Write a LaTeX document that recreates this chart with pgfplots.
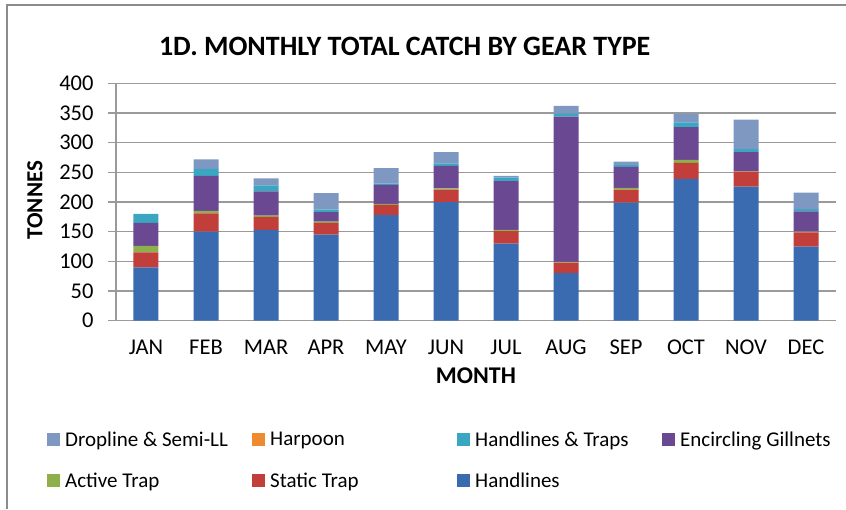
\documentclass[border=0pt]{standalone}
\usepackage{fontspec}
\setmainfont{Carlito}
\usepackage{pgfplots}
\usepackage{pgfplotstable}
\pgfplotsset{compat=1.18}

\definecolor{axisgray}{HTML}{9A9A9A}
\definecolor{frameg}{HTML}{8C8C8C}
\definecolor{cH}{HTML}{3A6BB0}
\definecolor{cST}{HTML}{C23E3B}
\definecolor{cAT}{HTML}{8DB04A}
\definecolor{cEG}{HTML}{6A4992}
\definecolor{cHT}{HTML}{3AA6C2}
\definecolor{cHP}{HTML}{F08A2E}
\definecolor{cD}{HTML}{7E98C2}

\pgfplotstableread{
x H ST AT EG HT HP D
0 90 25 11 39 15 0 0
1 150 31 4 59 12 0 16
2 153 22 2 41 10 0 12
3 145 20 2 16 4 0 28
4 178 17 2 32 2 0 26
5 200 21 2 38 4 0 19
6 130 21 2 82 6 0 3
7 80 18 1 245 5 0 13
8 199 22 3 35 3 0 6
9 239 27 5 55 8 0 15
10 226 25 1 32 5 0 50
11 125 24 1 34 4 0 28
}\datatable

\begin{document}
\begin{tikzpicture}[x=1pt,y=1pt]
\useasboundingbox (0,0) rectangle (846,509);
\draw[frameg, line width=1.3pt] (7,0) -- (7,504) -- (846,504);
\begin{axis}[
  at={(116pt,188.3pt)}, anchor=south west,
  scale only axis, width=720pt, height=237.4pt,
  ybar stacked, bar width=25pt,
  xmin=-0.5, xmax=11.5, ymin=0, ymax=400,
  xtick={0,...,11},
  xticklabels={JAN,FEB,MAR,APR,MAY,JUN,JUL,AUG,SEP,OCT,NOV,DEC},
  major x tick style={draw=none},
  extra x ticks={-0.5,0.5,1.5,2.5,3.5,4.5,5.5,6.5,7.5,8.5,9.5,10.5,11.5},
  extra x tick labels={},
  extra x tick style={grid=none, major tick length=8pt, tick style={draw=axisgray, line width=1.2pt}},
  ytick={0,50,...,400},
  ymajorgrids, grid style={axisgray, line width=1.2pt},
  axis x line*=bottom, axis y line*=left,
  axis line style={axisgray, line width=1.2pt},
  tick align=outside, major tick length=8pt,
  tick style={axisgray, line width=1.2pt},
  /pgf/number format/assume math mode=true,
  tick label style={font=\fontsize{22.5}{26}\selectfont, black},
  xticklabel style={yshift=-8pt},
  yticklabel style={xshift=-11pt},
  xlabel={\textbf{MONTH}},
  xlabel style={at={(axis description cs:0.5,-0.233)}, anchor=center, font=\fontsize{24}{28}\selectfont},
  ylabel={\textbf{TONNES}},
  ylabel style={at={(axis description cs:-0.1125,0.508)}, anchor=center, rotate=0, font=\fontsize{23}{27}\selectfont},
  title={\textbf{1D. MONTHLY TOTAL CATCH BY GEAR TYPE}},
  title style={at={(axis description cs:0.401,1.132)}, anchor=center, font=\fontsize{28}{32}\selectfont},
  legend columns=4, reverse legend,
  legend cell align=left,
  legend style={draw=none, fill=none, at={(axis description cs:-0.1,-0.45)}, anchor=north west,
    font=\fontsize{21}{25}\selectfont, /tikz/row sep=21pt, /tikz/column sep=0pt},
  legend image code/.code={\fill[#1, draw=none] (0pt,-6.5pt) rectangle (13pt,6.5pt);},
]
\addplot[draw=none, fill=cH] table[x=x,y=H]{\datatable};
\addlegendentry{\makebox[188pt][l]{\hspace{3pt}Handlines}}
\addplot[draw=none, fill=cST] table[x=x,y=ST]{\datatable};
\addlegendentry{\makebox[188pt][l]{\hspace{3pt}Static Trap}}
\addplot[draw=none, fill=cAT] table[x=x,y=AT]{\datatable};
\addlegendentry{\makebox[188pt][l]{\hspace{3pt}Active Trap}}
\addplot[draw=none, fill=cEG] table[x=x,y=EG]{\datatable};
\addlegendentry{\makebox[188pt][l]{\hspace{3pt}Encircling Gillnets}}
\addplot[draw=none, fill=cHT] table[x=x,y=HT]{\datatable};
\addlegendentry{\makebox[188pt][l]{\hspace{3pt}Handlines \& Traps}}
\addplot[draw=none, fill=cHP] table[x=x,y=HP]{\datatable};
\addlegendentry{\makebox[188pt][l]{\hspace{3pt}Harpoon}}
\addplot[draw=none, fill=cD] table[x=x,y=D]{\datatable};
\addlegendentry{\makebox[188pt][l]{\hspace{3pt}Dropline \& Semi-LL}}
\end{axis}
\end{tikzpicture}
\end{document}
